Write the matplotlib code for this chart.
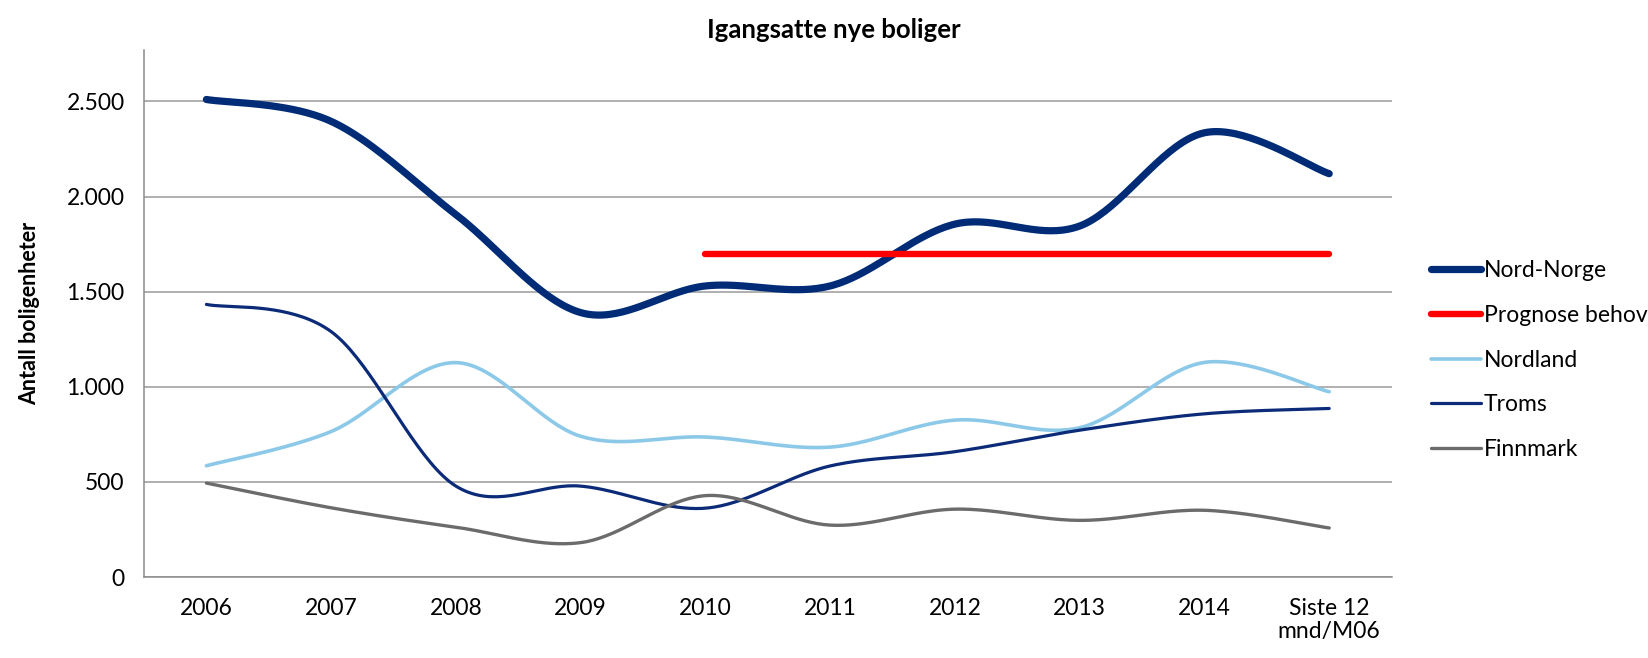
import numpy as np
import matplotlib.pyplot as plt
from matplotlib.ticker import FuncFormatter, MultipleLocator

plt.rcParams['font.family'] = ['Lato', 'DejaVu Sans']

# Data lest av fra figuren
kategorier = ['2006', '2007', '2008', '2009', '2010', '2011', '2012', '2013', '2014', 'Siste 12\nmnd/M06']
nord_norge = [2510, 2395, 1905, 1390, 1530, 1530, 1855, 1845, 2335, 2120]
prognose = [None, None, None, None, 1700, 1700, 1700, 1700, 1700, 1700]
nordland = [585, 765, 1127, 740, 736, 683, 825, 785, 1128, 974]
troms = [1433, 1290, 478, 478, 362, 584, 659, 772, 858, 886]
finnmark = [494, 364, 262, 181, 428, 273, 357, 298, 351, 258]


def glatt(x, y, n=40):
    # Excel-lignende glatting (Catmull-Rom som kubisk Bezier)
    x = np.asarray(x, float)
    y = np.asarray(y, float)
    px, py = [], []
    for i in range(len(x) - 1):
        i0 = max(i - 1, 0)
        i3 = min(i + 2, len(x) - 1)
        c1x = x[i] + (x[i + 1] - x[i0]) / 6
        c1y = y[i] + (y[i + 1] - y[i0]) / 6
        c2x = x[i + 1] - (x[i3] - x[i]) / 6
        c2y = y[i + 1] - (y[i3] - y[i]) / 6
        t = np.linspace(0, 1, n)
        bx = (1 - t) ** 3 * x[i] + 3 * (1 - t) ** 2 * t * c1x + 3 * (1 - t) * t ** 2 * c2x + t ** 3 * x[i + 1]
        by = (1 - t) ** 3 * y[i] + 3 * (1 - t) ** 2 * t * c1y + 3 * (1 - t) * t ** 2 * c2y + t ** 3 * y[i + 1]
        px.extend(bx)
        py.extend(by)
    return px, py


fig = plt.figure(figsize=(16.48, 6.58), dpi=100)
ax = fig.add_axes([0.0874, 0.123, 0.757, 0.801])

xs = np.arange(len(kategorier))

serier = [
    ('Nord-Norge', nord_norge, '#002B76', 5.2),
    ('Prognose behov', prognose, '#FF0000', 4.6),
    ('Nordland', nordland, '#8CC9E8', 2.6),
    ('Troms', troms, '#0B2A78', 2.3),
    ('Finnmark', finnmark, '#6B6B6B', 2.4),
]

for navn, verdier, farge, lw in serier:
    pkt = [(x, v) for x, v in zip(xs, verdier) if v is not None]
    gx, gy = glatt([p[0] for p in pkt], [p[1] for p in pkt])
    ax.plot(gx, gy, color=farge, lw=lw, label=navn, solid_capstyle='round', zorder=3)

ax.set_xlim(-0.5, len(kategorier) - 0.5)
ax.set_ylim(0, 2770)
ax.yaxis.set_major_locator(MultipleLocator(500))
ax.yaxis.set_major_formatter(FuncFormatter(lambda v, p: f'{int(v):,}'.replace(',', '.')))
ax.set_xticks(xs)
ax.set_xticklabels(kategorier, linespacing=1.15)
ax.tick_params(axis='both', length=0, labelsize=16.5)
ax.tick_params(axis='x', pad=15)
ax.tick_params(axis='y', pad=14)

ax.grid(axis='y', color='#9A9A9A', lw=1.1)
ax.set_axisbelow(True)
for s in ['top', 'right']:
    ax.spines[s].set_visible(False)
ax.spines['left'].set_color('#8C8C8C')
ax.spines['bottom'].set_color('#8C8C8C')
ax.spines['left'].set_linewidth(1.1)
ax.spines['bottom'].set_linewidth(1.1)

ax.set_ylabel('Antall boligenheter', fontsize=15.5, fontweight='bold', labelpad=19)

fig.text(0.506, 0.955, 'Igangsatte nye boliger', ha='center', va='center',
         fontsize=18.5, fontweight='bold')

ax.legend(loc='upper left', bbox_to_anchor=(1.015, 0.64), frameon=False,
          fontsize=16.5, handlelength=2.2, handletextpad=0.1, labelspacing=1.03)

plt.savefig('out.png', dpi=100)
